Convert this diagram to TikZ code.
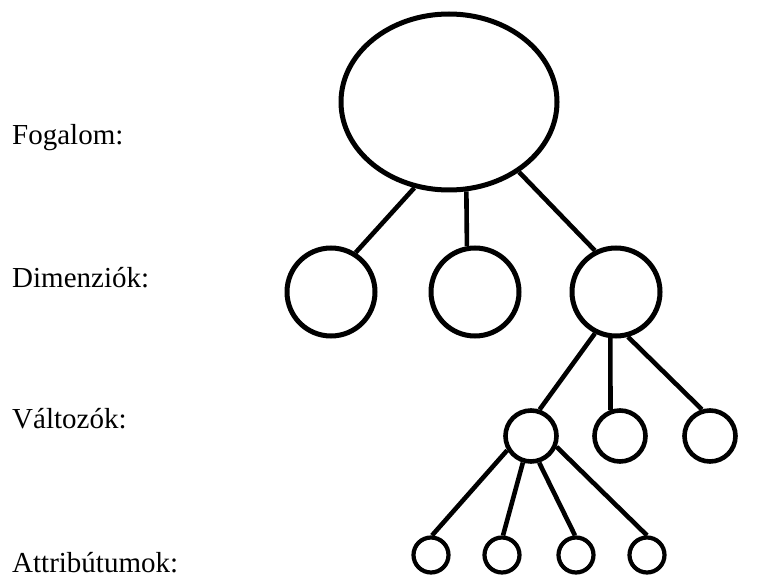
\documentclass[tikz,border=0pt]{standalone}
\usepackage{fontspec}
\setmainfont{Liberation Serif}
\usetikzlibrary{calc,shapes.geometric}

\begin{document}
\begin{tikzpicture}[
  x=1pt, y=-1pt,
  concept/.style={
      ellipse,
      draw,
      line width=5pt,
      inner sep=0pt,
      minimum width=216pt,
      minimum height=176pt
    },
  dim/.style={
      circle,
      draw,
      line width=5pt,
      inner sep=0pt,
      minimum size=88pt
    },
  var/.style={
      circle,
      draw,
      line width=4.6pt,
      inner sep=0pt,
      minimum size=51pt
    },
  attr/.style={
      circle,
      draw,
      line width=4.2pt,
      inner sep=0pt,
      minimum size=35pt
    },
  label/.style={
      anchor=base west,
      inner sep=0pt,
      font=\fontsize{29}{34}\selectfont
    },
  line/.style={
      line width=4.6pt
    }]
  \useasboundingbox (0,0) rectangle (781,577);

  \node [concept] (f) at (449,102) {};

  \node [dim] (d1) at (331,292) {};
  \node [dim] (d2) at ($(d1) + (144,0)$) {};
  \node [dim] (d3) at ($(d2) + (141,0)$) {};

  \node [var] (v1) at (531,436) {};
  \node [var] (v2) at ($(v1) + (89,0)$) {};
  \node [var] (v3) at ($(v2) + (90,0)$) {};

  \node [attr] (a1) at (431,555) {};
  \node [attr] (a2) at ($(a1) + (71,0)$) {};
  \node [attr] (a3) at ($(a2) + (74,0)$) {};
  \node [attr] (a4) at ($(a3) + (71,0)$) {};

  \node [label] (l1) at (12,145) {Fogalom:};
  \node [label] (l2) at (12,287) {Dimenziók:};
  \node [label] (l3) at (12,428) {Változók:};
  \node [label] (l4) at (12,572) {Attribútumok:};

  \draw [line] (f.248) -- (d1.58);
  \draw [line] (f.281) -- (d2.100);
  \draw [line] (f.315) -- (d3.117);

  \draw [line] (d3.243) -- (v1.72);
  \draw [line] (d3.263) -- (v2.110);
  \draw [line] (d3.285) -- (v3.107);

  \draw [line] (v1.211) -- (a1.87);
  \draw [line] (v1.253) -- (a2.87);
  \draw [line] (v1.287) -- (a3.93);
  \draw [line] (v1.337) -- (a4.90);
\end{tikzpicture}
\end{document}
